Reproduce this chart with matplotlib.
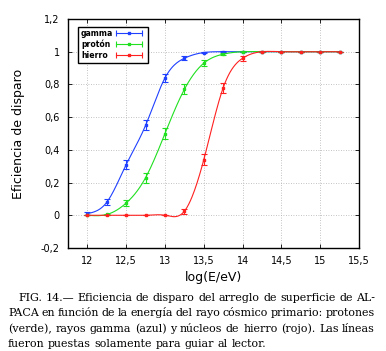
import numpy as np
import matplotlib.pyplot as plt
from matplotlib.patches import Rectangle
from matplotlib.ticker import FuncFormatter

# log(E/eV)
energy = [12.0, 12.25, 12.5, 12.75, 13.0, 13.25, 13.5, 13.75, 14.0, 14.25, 14.5, 14.75, 15.0, 15.25]

gamma = [0.01, 0.08, 0.31, 0.55, 0.84, 0.96, 0.995, 1.0, 1.0, 1.0, 1.0, 1.0, 1.0, 1.0]
gamma_err = [0.01, 0.02, 0.03, 0.03, 0.025, 0.012, 0.005, 0.003, 0.0, 0.0, 0.0, 0.0, 0.0, 0.0]

proton = [0.0, 0.005, 0.075, 0.23, 0.50, 0.77, 0.93, 0.985, 1.0, 1.0, 1.0, 1.0, 1.0, 1.0]
proton_err = [0.0, 0.004, 0.02, 0.03, 0.035, 0.03, 0.02, 0.008, 0.003, 0.0, 0.0, 0.0, 0.0, 0.0]

iron = [0.0, 0.0, 0.0, 0.0, 0.0, 0.025, 0.34, 0.78, 0.96, 1.0, 1.0, 1.0, 1.0, 1.0]
iron_err = [0.0, 0.0, 0.0, 0.0, 0.0, 0.015, 0.035, 0.03, 0.015, 0.003, 0.0, 0.0, 0.0, 0.0]

caption = [
    "FIG. 14.\u2014 Eficiencia de disparo del arreglo de superficie de AL-",
    "PACA en función de la energía del rayo cósmico primario: protones",
    "(verde), rayos gamma (azul) y núcleos de hierro (rojo). Las líneas",
    "fueron puestas solamente para guiar al lector.",
]


def spline(x, y, n=300):
    # natural cubic spline through the points (like gnuplot "smooth csplines")
    x = np.asarray(x, float)
    y = np.asarray(y, float)
    k = len(x)
    h = np.diff(x)
    A = np.zeros((k, k))
    b = np.zeros(k)
    A[0, 0] = A[-1, -1] = 1
    for i in range(1, k - 1):
        A[i, i - 1] = h[i - 1]
        A[i, i] = 2 * (h[i - 1] + h[i])
        A[i, i + 1] = h[i]
        b[i] = 6 * ((y[i + 1] - y[i]) / h[i] - (y[i] - y[i - 1]) / h[i - 1])
    m = np.linalg.solve(A, b)
    xs = np.linspace(x[0], x[-1], n)
    j = np.clip(np.searchsorted(x, xs) - 1, 0, k - 2)
    t0 = x[j + 1] - xs
    t1 = xs - x[j]
    hj = h[j]
    ys = (m[j] * t0 ** 3 + m[j + 1] * t1 ** 3) / (6 * hj) \
        + (y[j] / hj - m[j] * hj / 6) * t0 + (y[j + 1] / hj - m[j + 1] * hj / 6) * t1
    return xs, ys


fig = plt.figure(figsize=(3.86, 3.51), dpi=100)
ax = fig.add_axes([68 / 386, 1 - 248 / 351, 291 / 386, 229 / 351])

series = [
    ("gamma", gamma, gamma_err, "#2040ff"),
    ("protón", proton, proton_err, "#20e020"),
    ("hierro", iron, iron_err, "#ff2020"),
]
for label, vals, errs, col in series:
    xs, ys = spline(energy, vals)
    ax.plot(xs, ys, color=col, lw=0.8, zorder=3)
    ax.errorbar(energy, vals, yerr=errs, fmt="s", ms=2, color=col, ecolor=col,
                elinewidth=0.8, capsize=2.5, capthick=0.8, lw=0.8, zorder=4)

ax.set_xlim(11.75, 15.5)
ax.set_ylim(-0.2, 1.2)
ax.set_xticks(np.arange(12, 15.51, 0.5))
ax.set_yticks(np.arange(-0.2, 1.21, 0.2))
comma = FuncFormatter(lambda v, p: ("%g" % round(v, 2)).replace(".", ",") if abs(v) > 1e-9 else "0")
ax.xaxis.set_major_formatter(comma)
ax.yaxis.set_major_formatter(comma)
ax.tick_params(direction="in", top=True, right=True, length=3, width=0.6, labelsize=7, pad=6)
ax.grid(True, color="#b0b0b0", ls=(0, (1, 2)), lw=0.6)
for s in ax.spines.values():
    s.set_linewidth(1.0)

ax.set_xlabel("log(E/eV)", fontsize=9, labelpad=3)
ax.set_ylabel("Eficiencia de disparo", fontsize=9, labelpad=11)

# gnuplot-style key: label left, sample line with error caps right
ax.add_patch(Rectangle((0.035, 0.808), 0.24, 0.157, transform=ax.transAxes,
                       facecolor="white", edgecolor="black", lw=1.0, zorder=6))
for k, (label, vals, errs, col) in enumerate(series):
    yk = 0.938 - k * 0.048
    ax.text(0.045, yk, label, transform=ax.transAxes, fontsize=5.6, weight="bold",
            va="center", ha="left", zorder=7)
    ax.plot([0.165, 0.255], [yk, yk], transform=ax.transAxes, color=col, lw=0.8,
            marker="|", ms=5, mew=0.8, markevery=[0, 1], zorder=7)
    ax.plot([0.21], [yk], transform=ax.transAxes, color=col, marker="s", ms=1.6, zorder=7)

# justified caption below the chart
fig.canvas.draw()
renderer = fig.canvas.get_renderer()
right_px = 375
baselines = [301, 316, 332, 347]
starts = [18, 8, 8, 8]
for i, line in enumerate(caption):
    words = line.split(" ")
    arts = [fig.text(0, 0, w, fontsize=7.9, family="DejaVu Serif", va="baseline")
            for w in words]
    widths = [a.get_window_extent(renderer).width for a in arts]
    if i < len(caption) - 1:
        gap = (right_px - starts[i] - sum(widths)) / (len(words) - 1)
    else:
        gap = 3.5
    xpos = starts[i]
    for a, w in zip(arts, widths):
        a.set_position((xpos / 386, 1 - baselines[i] / 351))
        xpos += w + gap

fig.savefig("out.png", dpi=100)
